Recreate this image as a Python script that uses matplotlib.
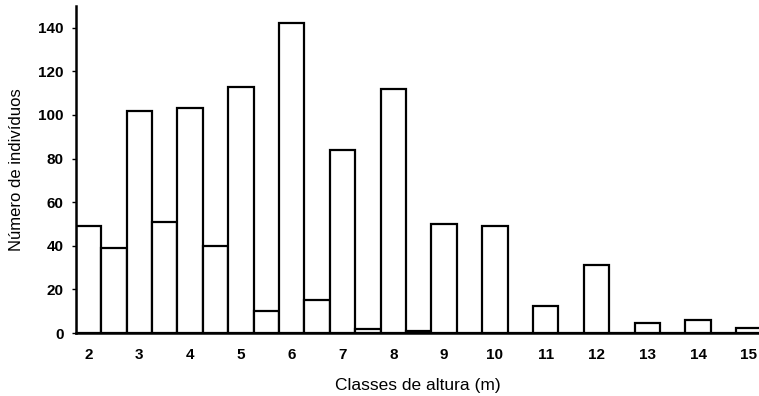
import matplotlib
matplotlib.use("Agg")
import matplotlib.pyplot as plt

# Height classes (m), 0.5 m bins; labels shown at whole metres
classes = [2, 2.5, 3, 3.5, 4, 4.5, 5, 5.5, 6, 6.5, 7, 7.5, 8, 8.5, 9, 9.5,
           10, 10.5, 11, 11.5, 12, 12.5, 13, 13.5, 14, 14.5, 15]
counts = [49, 39, 102, 51, 103, 40, 113, 10, 142, 15, 84, 2, 112, 1, 50, 0,
          49, 0, 12.5, 0, 31, 0, 4.5, 0, 6, 0, 2.5]
xticks = list(range(2, 16))
yticks = [0, 20, 40, 60, 80, 100, 120, 140]

plt.rcParams['font.family'] = ['Liberation Sans', 'DejaVu Sans']

fig = plt.figure(figsize=(7.59, 3.96), dpi=100)
ax = fig.add_axes([0.1, 0.159, 0.9, 0.826])

ax.bar(classes, counts, width=0.5, color='white', edgecolor='black',
       linewidth=1.6, align='center')

ax.set_xlim(1.75, 15.2)
ax.set_ylim(0, 150)
ax.set_xticks(xticks)
ax.set_xticklabels([str(t) for t in xticks], fontweight='bold', fontsize=11)
ax.set_yticks(yticks)
ax.set_yticklabels([str(t) for t in yticks], fontweight='bold', fontsize=11)

ax.tick_params(axis='x', length=0, pad=11)
ax.tick_params(axis='y', length=3, width=1, pad=6, direction='out')

for s in ['top', 'right']:
    ax.spines[s].set_visible(False)
for s in ['left', 'bottom']:
    ax.spines[s].set_linewidth(1.8)

ax.set_xlabel('Classes de altura (m)', fontsize=12.5, labelpad=11)
ax.set_ylabel('Número de indivíduos', fontsize=12, labelpad=10)

fig.savefig('out.png', dpi=100)
